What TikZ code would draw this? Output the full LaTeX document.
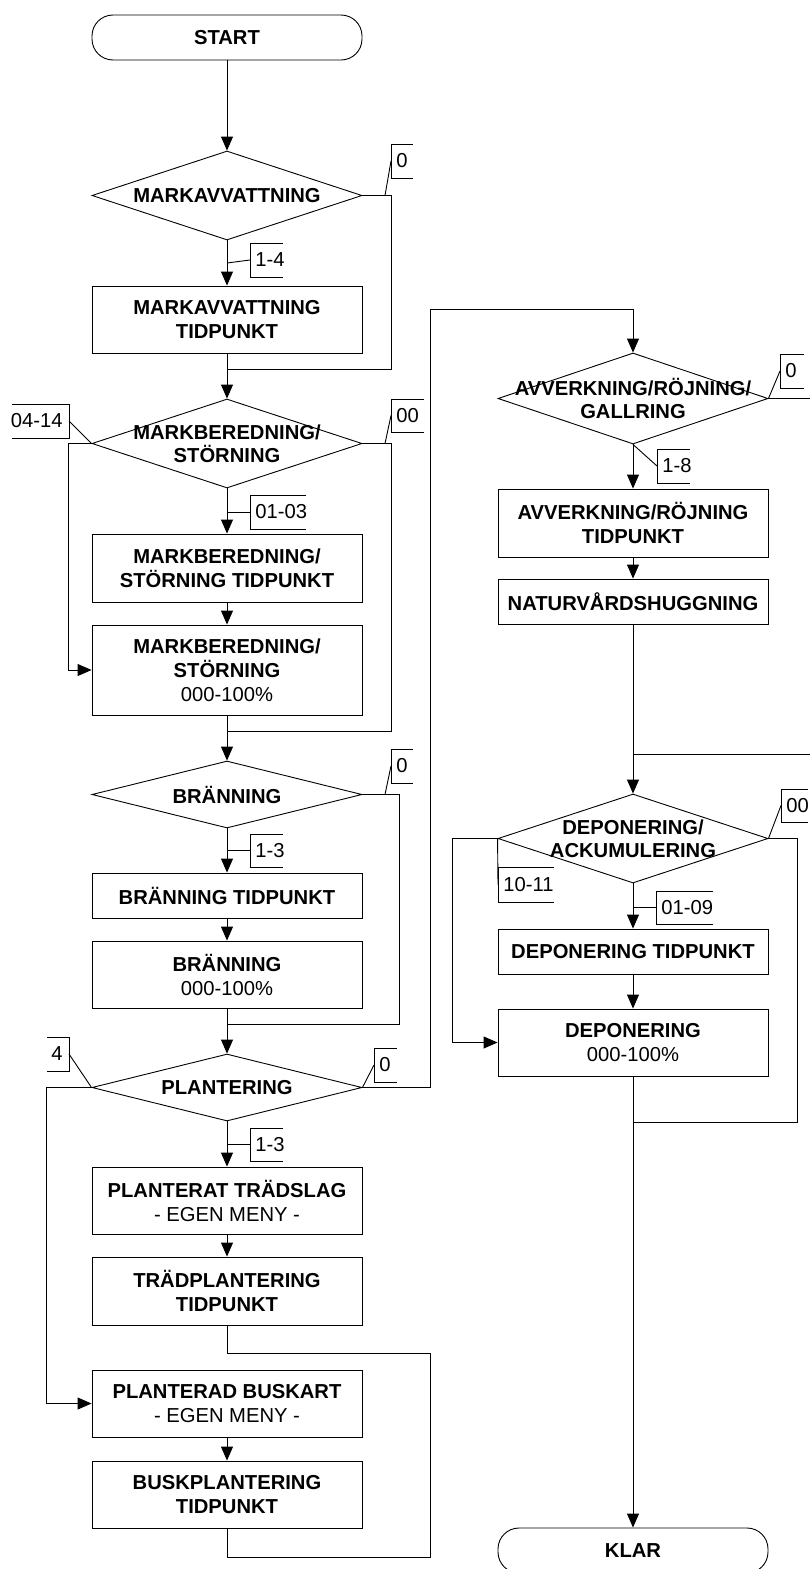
\documentclass[tikz,border=0pt]{standalone}
\usepackage{fontspec}
\setmainfont{Liberation Sans}
\usetikzlibrary{arrows.meta,shapes.geometric}

% Annotation bracket open to the right: name, x, top, bottom, length, text
\newcommand{\rflag}[6]{%
  \coordinate (#1) at (#2,{(#3+#4)/2});
  \draw (#2+#5,#3) -- (#2,#3) -- (#2,#4) -- (#2+#5,#4);
  \node[flagtext,anchor=west] (#1t) at (#2+5,{(#3+#4)/2}) {#6};
}
% Annotation bracket open to the left: name, x, top, bottom, length, text
\newcommand{\lflag}[6]{%
  \coordinate (#1) at (#2,{(#3+#4)/2});
  \draw (#2-#5,#3) -- (#2,#3) -- (#2,#4) -- (#2-#5,#4);
  \node[flagtext,anchor=east] (#1t) at (#2-6,{(#3+#4)/2}) {#6};
}

\begin{document}
\begin{tikzpicture}[x=1pt,y=-1pt,
  line width=0.9pt,
  box/.style={draw, rectangle, minimum width=270pt, inner sep=0pt, align=center,
    font=\fontsize{20.2}{24}\selectfont\bfseries},
  term/.style={draw, rectangle, rounded corners=21pt, minimum width=270pt,
    minimum height=45pt, inner sep=0pt, font=\fontsize{20.2}{24}\selectfont\bfseries},
  dec/.style={draw, diamond, minimum width=270pt, inner sep=0pt, align=center,
    font=\fontsize{20.2}{23}\selectfont\bfseries},
  arr/.style={-{Triangle[length=14pt,width=12pt]}},
  flagtext/.style={inner sep=0pt, font=\fontsize{20.2}{24}\selectfont},
]
\useasboundingbox (0,0) rectangle (810,1569);

% ---- left column ----
\node[term] (start) at (227,37.5) {START};
\node[dec, minimum height=89pt] (d1) at (227,195.5) {\makebox[0pt]{MARKAVVATTNING}};
\node[box, minimum height=67pt] (b1) at (227,319.5) {MARKAVVATTNING\\TIDPUNKT};
\node[dec, minimum height=89pt] (d2) at (227,443.5) {\makebox[0pt]{MARKBEREDNING/}\\\makebox[0pt]{STÖRNING}};
\node[box, minimum height=68pt] (b2) at (227,568) {MARKBEREDNING/\\STÖRNING TIDPUNKT};
\node[box, minimum height=90pt] (b3) at (227,670) {MARKBEREDNING/\\STÖRNING\\{\mdseries 000-100\%}};
\node[dec, minimum height=67pt] (d3) at (227,794.5) {\makebox[0pt]{BRÄNNING}};
\node[box, minimum height=45pt] (b4) at (227,895.5) {BRÄNNING TIDPUNKT};
\node[box, minimum height=67pt] (b5) at (227,974.5) {BRÄNNING\\{\mdseries 000-100\%}};
\node[dec, minimum height=67pt] (d4) at (227,1087.5) {\makebox[0pt]{PLANTERING}};
\node[box, minimum height=67pt] (b6) at (227,1200.5) {PLANTERAT TRÄDSLAG\\{\mdseries - EGEN MENY -}};
\node[box, minimum height=68pt] (b7) at (227,1291) {TRÄDPLANTERING\\TIDPUNKT};
\node[box, minimum height=67pt] (b8) at (227,1403.5) {PLANTERAD BUSKART\\{\mdseries - EGEN MENY -}};
\node[box, minimum height=67pt] (b9) at (227,1494.5) {BUSKPLANTERING\\TIDPUNKT};

% ---- right column ----
\node[dec, minimum height=91pt] (d5) at (633,398.5) {\makebox[0pt]{AVVERKNING/RÖJNING/}\\\makebox[0pt]{GALLRING}};
\node[box, minimum height=68pt] (b10) at (633,523) {AVVERKNING/RÖJNING\\TIDPUNKT};
\node[box, minimum height=45pt] (b11) at (633,601.5) {NATURVÅRDSHUGGNING};
\node[dec, minimum height=89pt] (d6) at (633,838.5) {\makebox[0pt]{DEPONERING/}\\\makebox[0pt]{ACKUMULERING}};
\node[box, minimum height=45pt] (b12) at (633,951.5) {DEPONERING TIDPUNKT};
\node[box, minimum height=67pt] (b13) at (633,1042.5) {DEPONERING\\{\mdseries 000-100\%}};
\node[term] (klar) at (633,1550.5) {KLAR};

% ---- junction points ----
\coordinate (j1) at (227,369);
\coordinate (j2) at (227,731);
\coordinate (j3) at (227,1024);
\coordinate (ctop) at (430,309);
\coordinate (j5) at (430,1353);
\coordinate (j6) at (430,1557);
\coordinate (jr) at (633,754);
\coordinate (jk) at (633,1122);

% ---- connectors, left column ----
\draw[arr] (start.south) -- (d1.north);
\draw[arr] (d1.south) -- (b1.north);
\draw (d1.east) -- ++(29,0) |- (j1);
\draw[arr] (b1.south) -- (d2.north);
\draw[arr] (d2.south) -- (b2.north);
\draw[arr] (b2.south) -- (b3.north);
\draw[arr] (d2.west) -- ++(-23,0) |- (b3.west);
\draw (d2.east) -- ++(29,0) |- (j2);
\draw[arr] (b3.south) -- (d3.north);
\draw[arr] (d3.south) -- (b4.north);
\draw[arr] (b4.south) -- (b5.north);
\draw (d3.east) -- ++(37,0) |- (j3);
\draw[arr] (b5.south) -- (d4.north);
\draw[arr] (d4.south) -- (b6.north);
\draw[arr] (b6.south) -- (b7.north);
\draw[arr] (d4.west) -- ++(-45,0) |- (b8.west);
\draw[arr] (b8.south) -- (b9.north);
\draw[arr] (d4.east) -| (ctop) -| (d5.north);
\draw (b7.south) |- (j5);
\draw (b9.south) |- (j6) -- (j5);

% ---- connectors, right column ----
\draw[arr] (d5.south) -- (b10.north);
\draw[arr] (b10.south) -- (b11.north);
\draw (d5.east) -- ++(44,0) |- (jr);
\draw[arr] (b11.south) -- (d6.north);
\draw[arr] (d6.south) -- (b12.north);
\draw[arr] (b12.south) -- (b13.north);
\draw[arr] (d6.west) -- ++(-45,0) |- (b13.west);
\draw (d6.east) -- ++(29,0) |- (jk);
\draw[arr] (b13.south) -- (klar.north);

% ---- branch annotations ----
\rflag{f1}{391}{144}{178}{22}{0}
\coordinate (l1) at (385,195.5);
\draw (l1) -- (f1);

\rflag{f2}{250}{243}{277}{33}{1-4}
\coordinate (l2) at (227,263);
\draw (l2) -- (f2);

\lflag{f3}{69}{404}{438}{57}{04-14}
\draw (d2.west) -- (f3);

\rflag{f4}{391}{399}{432}{33}{00}
\coordinate (l4) at (385,443.5);
\draw (l4) -- (f4);

\rflag{f5}{250}{495}{529}{56}{01-03}
\coordinate (l5) at (227,512);
\draw (l5) -- (f5);

\rflag{f6}{391}{749}{783}{22}{0}
\coordinate (l6) at (385,794.5);
\draw (l6) -- (f6);

\rflag{f7}{250}{834}{867}{33}{1-3}
\coordinate (l7) at (227,850.5);
\draw (l7) -- (f7);

\lflag{f8}{69}{1037}{1071}{22}{4}
\draw (d4.west) -- (f8);

\rflag{f9}{374}{1048}{1082}{23}{0}
\draw (d4.east) -- (f9);

\rflag{f10}{250}{1128}{1161}{33}{1-3}
\coordinate (l10) at (227,1144.5);
\draw (l10) -- (f10);

\rflag{f11}{780}{354}{388}{24}{0}
\draw (d5.east) -- (f11);

\rflag{f12}{657}{449}{483}{33}{1-8}
\draw (d5.south) -- (f12);

\rflag{f13}{781}{789}{822}{27}{00}
\draw (d6.east) -- (f13);

\rflag{f14}{498}{867}{902}{56}{10-11}
\draw (d6.west) -- (f14);

\rflag{f15}{656}{891}{924}{57}{01-09}
\coordinate (l15) at (633,907.5);
\draw (l15) -- (f15);

\end{tikzpicture}
\end{document}
